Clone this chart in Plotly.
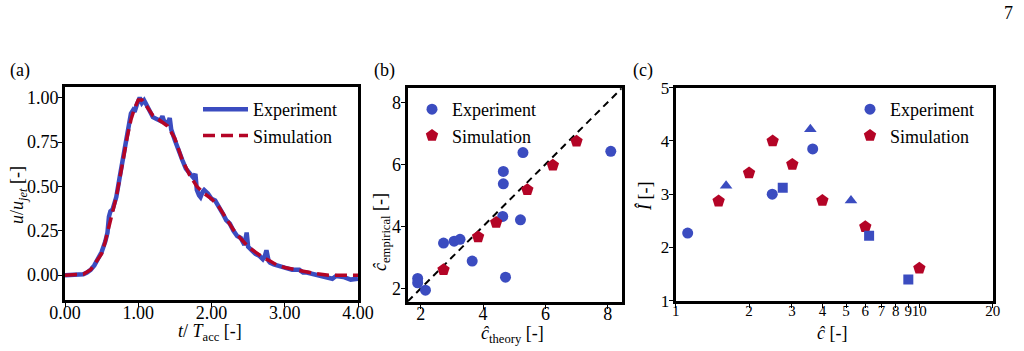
import plotly.graph_objects as go

# ---------- data ----------
# (a) velocity time series
t_exp = [0.00, 0.05, 0.10, 0.15, 0.20, 0.25, 0.30, 0.35, 0.40, 0.45, 0.50, 0.55,
         0.58, 0.60, 0.62, 0.65, 0.70, 0.75, 0.80, 0.85, 0.88, 0.90, 0.93, 0.95,
         0.98, 1.00, 1.02, 1.05, 1.08, 1.10, 1.15, 1.20, 1.25, 1.30, 1.33, 1.35,
         1.38, 1.40, 1.43, 1.45, 1.50, 1.55, 1.60, 1.65, 1.70, 1.75, 1.78, 1.80,
         1.83, 1.85, 1.88, 1.90, 1.95, 2.00, 2.05, 2.10, 2.15, 2.20, 2.25, 2.30,
         2.35, 2.40, 2.45, 2.48, 2.50, 2.55, 2.60, 2.65, 2.70, 2.73, 2.75, 2.78,
         2.80, 2.85, 2.90, 2.95, 3.00, 3.10, 3.20, 3.25, 3.30, 3.40, 3.50, 3.60,
         3.65, 3.70, 3.80, 3.90, 4.00]
u_exp = [0.000, 0.000, 0.002, 0.003, 0.004, 0.005, 0.015, 0.030, 0.055, 0.090, 0.130, 0.190,
         0.240, 0.330, 0.360, 0.370, 0.440, 0.560, 0.680, 0.800, 0.850, 0.910, 0.930, 0.920,
         0.960, 0.990, 1.000, 0.970, 0.985, 0.970, 0.930, 0.890, 0.880, 0.870, 0.895, 0.870,
         0.860, 0.850, 0.885, 0.820, 0.760, 0.700, 0.650, 0.600, 0.570, 0.550, 0.570, 0.480,
         0.450, 0.440, 0.470, 0.480, 0.460, 0.430, 0.420, 0.390, 0.350, 0.310, 0.290, 0.250,
         0.220, 0.210, 0.170, 0.240, 0.160, 0.140, 0.120, 0.110, 0.090, 0.110, 0.140, 0.080,
         0.070, 0.060, 0.055, 0.050, 0.040, 0.030, 0.030, 0.015, 0.015, 0.005, 0.000, -0.010,
         -0.020, -0.005, -0.010, -0.025, -0.020]
t_sim = [0.00, 0.10, 0.20, 0.25, 0.35, 0.45, 0.50, 0.55, 0.60, 0.65, 0.70, 0.75,
         0.80, 0.85, 0.90, 0.95, 1.00, 1.05, 1.10, 1.20, 1.30, 1.40, 1.50, 1.60,
         1.70, 1.80, 1.90, 2.00, 2.10, 2.20, 2.30, 2.40, 2.50, 2.60, 2.70, 2.80,
         2.90, 3.00, 3.20, 3.40, 3.60, 3.80, 4.00]
u_sim = [0.000, 0.001, 0.003, 0.005, 0.030, 0.085, 0.120, 0.190, 0.270, 0.350, 0.440, 0.550,
         0.670, 0.780, 0.875, 0.940, 0.987, 0.987, 0.960, 0.900, 0.870, 0.840, 0.770, 0.650,
         0.565, 0.500, 0.460, 0.430, 0.385, 0.320, 0.255, 0.205, 0.160, 0.130, 0.100, 0.080,
         0.055, 0.043, 0.025, 0.010, 0.000, 0.000, 0.000]

# (b) empirical vs theoretical
b_exp_theory = [1.90, 1.90, 2.15, 2.73, 3.07, 3.26, 3.65, 4.72, 4.63, 4.65, 4.65, 5.20, 5.28, 8.10]
b_exp_emp = [2.32, 2.18, 1.94, 3.46, 3.52, 3.58, 2.88, 2.36, 4.32, 5.77, 5.37, 4.21, 6.38, 6.42]
b_sim_theory = [2.73, 3.84, 4.42, 5.42, 6.24, 7.00]
b_sim_emp = [2.60, 3.66, 4.12, 5.18, 5.97, 6.74]
b_diag = [1.58, 8.45]

# (c) I-hat vs c-hat
c_exp_circle_x = [1.12, 2.49, 3.65]
c_exp_circle_y = [2.27, 3.00, 3.85]
c_exp_tri_x = [1.61, 3.57, 5.24]
c_exp_tri_y = [3.16, 4.22, 2.88]
c_exp_sq_x = [2.75, 6.22, 9.01]
c_exp_sq_y = [3.12, 2.22, 1.40]
c_sim_x = [1.50, 2.00, 2.50, 3.01, 4.00, 6.00, 10.0]
c_sim_y = [2.87, 3.40, 4.00, 3.56, 2.88, 2.39, 1.61]
c_tickvals = [1, 2, 3, 4, 5, 6, 7, 8, 9, 10, 20]
c_ticktext = ["1", "2", "3", "4", "5", "6", "7", "8", "9", "10", "20"]

BLUE = "#3b4cc0"
RED = "#b40426"
FONT = "'Liberation Serif', 'DejaVu Serif', serif"
W, H = 1024, 351

def px_x(p):
    return p / W

def px_y(p):
    return 1 - p / H

fig = go.Figure()

# (a)
fig.add_trace(go.Scatter(x=t_exp, y=u_exp, mode="lines", name="Experiment",
                         line=dict(color=BLUE, width=4.5), xaxis="x", yaxis="y",
                         legend="legend"))
fig.add_trace(go.Scatter(x=t_sim, y=u_sim, mode="lines", name="Simulation",
                         line=dict(color=RED, width=3.5, dash="12px,6px"),
                         xaxis="x", yaxis="y", legend="legend"))

# (b)
fig.add_trace(go.Scatter(x=b_diag, y=b_diag, mode="lines", showlegend=False,
                         line=dict(color="black", width=2, dash="7px,5px"),
                         xaxis="x2", yaxis="y2"))
fig.add_trace(go.Scatter(x=b_exp_theory, y=b_exp_emp, mode="markers", name="Experiment",
                         marker=dict(color=BLUE, size=11, symbol="circle"),
                         xaxis="x2", yaxis="y2", legend="legend2"))
fig.add_trace(go.Scatter(x=b_sim_theory, y=b_sim_emp, mode="markers", name="Simulation",
                         marker=dict(color=RED, size=13, symbol="pentagon"),
                         xaxis="x2", yaxis="y2", legend="legend2"))

# (c)
fig.add_trace(go.Scatter(x=c_exp_circle_x, y=c_exp_circle_y, mode="markers", name="Experiment",
                         marker=dict(color=BLUE, size=11, symbol="circle"),
                         xaxis="x3", yaxis="y3", legend="legend3"))
fig.add_trace(go.Scatter(x=c_sim_x, y=c_sim_y, mode="markers", name="Simulation",
                         marker=dict(color=RED, size=13, symbol="pentagon"),
                         xaxis="x3", yaxis="y3", legend="legend3"))
fig.add_trace(go.Scatter(x=c_exp_tri_x, y=c_exp_tri_y, mode="markers", showlegend=False,
                         marker=dict(color=BLUE, size=11, symbol="triangle-up"),
                         xaxis="x3", yaxis="y3"))
fig.add_trace(go.Scatter(x=c_exp_sq_x, y=c_exp_sq_y, mode="markers", showlegend=False,
                         marker=dict(color=BLUE, size=10, symbol="square"),
                         xaxis="x3", yaxis="y3"))

def axis_common(size, standoff):
    return dict(showline=True, linecolor="black", linewidth=3, mirror=True,
                ticks="outside", ticklen=4, tickwidth=1, tickcolor="black",
                showgrid=False, zeroline=False, automargin=False, tickangle=0,
                ticklabelstandoff=standoff,
                tickfont=dict(family=FONT, size=size, color="black"))

TF = dict(family=FONT, size=18, color="black")

def ann(text, x, y, angle=0, size=18):
    return dict(text=text, x=px_x(x), y=px_y(y), xref="paper", yref="paper",
                xanchor="center", yanchor="middle", showarrow=False, textangle=angle,
                font=dict(family=FONT, size=size, color="black"))

XS = -10
YS = -4

fig.update_layout(
    width=W, height=H,
    margin=dict(l=0, r=0, t=0, b=0),
    paper_bgcolor="white", plot_bgcolor="white",
    font=dict(family=FONT, size=18, color="black"),
    xaxis=dict(domain=[px_x(65), px_x(358)], range=[0, 4],
               tickvals=[0, 1, 2, 3, 4], tickformat=".2f", anchor="y",
               **axis_common(18, XS)),
    yaxis=dict(domain=[px_y(300), px_y(87)], range=[-0.14, 1.06],
               tickvals=[0, 0.25, 0.5, 0.75, 1.0], tickformat=".2f", anchor="x",
               **axis_common(18, YS)),
    xaxis2=dict(domain=[px_x(407.7), px_x(621.7)], range=[1.58, 8.45],
                tickvals=[2, 4, 6, 8], anchor="y2",
                **axis_common(18, XS)),
    yaxis2=dict(domain=[px_y(301.7), px_y(87.7)], range=[1.57, 8.47],
                tickvals=[2, 4, 6, 8], anchor="x2",
                **axis_common(18, YS)),
    xaxis3=dict(domain=[px_x(675.7), px_x(992.7)], type="log", range=[0, 1.30103],
                tickvals=c_tickvals, ticktext=c_ticktext, anchor="y3",
                **axis_common(15, XS)),
    yaxis3=dict(domain=[px_y(300.7), px_y(87.7)], range=[1, 5],
                tickvals=[1, 2, 3, 4, 5], anchor="x3",
                **axis_common(17, YS)),
    legend=dict(x=px_x(198), y=px_y(91), xanchor="left", yanchor="top",
                bgcolor="rgba(0,0,0,0)", font=dict(family=FONT, size=18),
                itemwidth=45, tracegroupgap=0),
    legend2=dict(x=px_x(412), y=px_y(91), xanchor="left", yanchor="top",
                 bgcolor="rgba(0,0,0,0)", font=dict(family=FONT, size=18)),
    legend3=dict(x=px_x(850), y=px_y(91), xanchor="left", yanchor="top",
                 bgcolor="rgba(0,0,0,0)", font=dict(family=FONT, size=18)),
    annotations=[
        dict(text="(a)", x=px_x(8), y=px_y(70), xref="paper", yref="paper",
             xanchor="left", yanchor="middle", showarrow=False, font=TF),
        dict(text="(b)", x=px_x(372), y=px_y(70), xref="paper", yref="paper",
             xanchor="left", yanchor="middle", showarrow=False, font=TF),
        dict(text="(c)", x=px_x(631), y=px_y(70), xref="paper", yref="paper",
             xanchor="left", yanchor="middle", showarrow=False, font=TF),
        dict(text="7", x=px_x(1015), y=px_y(13), xref="paper", yref="paper",
             xanchor="right", yanchor="middle", showarrow=False, font=TF),
        ann("<i>t</i>/ <i>T</i><sub>acc</sub> [-]", 210, 332),
        ann("<i>u</i>/<i>u<sub>jet</sub></i> [-]", 18, 195, angle=-90),
        ann("<i>ĉ</i><sub>theory</sub> [-]", 512, 334),
        ann("<i>ĉ</i><sub>empirical</sub> [-]", 382, 232, angle=-90),
        ann("<i>ĉ</i> [-]", 832, 333),
        ann("<i>Î</i> [-]", 644, 197, angle=-90),
    ],
)

fig.write_html("out.html")
